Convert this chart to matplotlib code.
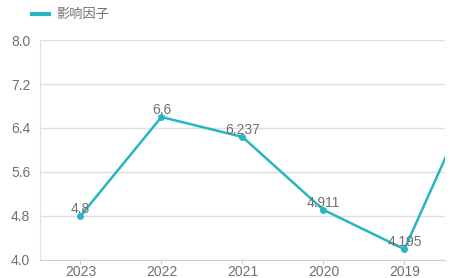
import matplotlib
matplotlib.use('Agg')
import matplotlib.pyplot as plt

plt.rcParams['font.family'] = ['Liberation Sans', 'Noto Sans CJK SC', 'DejaVu Sans']

years = ['2023', '2022', '2021', '2020', '2019', '2018']
values = [4.8, 6.6, 6.237, 4.911, 4.195, 7.48]
labels = ['4.8', '6.6', '6.237', '4.911', '4.195', '']
yticks = [4.0, 4.8, 5.6, 6.4, 7.2, 8.0]

teal = '#27b6c0'
grey = '#707070'

fig = plt.figure(figsize=(4.54, 2.78), dpi=100)
ax = fig.add_axes([0.088, 0.065, 0.892, 0.791])

x = list(range(len(years)))
ax.plot(x, values, color=teal, lw=1.8, marker='o', ms=4, zorder=3)
for xi, v, t in zip(x, values, labels):
    ax.annotate(t, (xi, v), xytext=(0, 0), textcoords='offset points',
                ha='center', va='bottom', fontsize=10, color=grey, zorder=4)

ax.set_xlim(-0.5, 4.5)
ax.set_ylim(4.0, 8.0)
ax.set_xticks(x[:5])
ax.set_xticklabels(years[:5])
ax.set_yticks(yticks)
ax.set_yticklabels(['%.1f' % t for t in yticks])
ax.grid(axis='y', color='#e0e0e0', lw=1)
ax.set_axisbelow(True)
for s in ['top', 'right']:
    ax.spines[s].set_visible(False)
ax.spines['left'].set_color('#e0e0e0')
ax.spines['bottom'].set_color('#d0d0d0')
ax.tick_params(axis='y', length=0, labelsize=10, labelcolor=grey, pad=7)
ax.tick_params(axis='x', length=3, color='#d0d0d0', labelsize=10, labelcolor=grey, pad=1)

leg = fig.legend(handles=[plt.Line2D([], [], color=teal, lw=3)], labels=['影响因子'],
                 loc='upper left', bbox_to_anchor=(0.045, 1.01), frameon=False,
                 handlelength=1.3, handletextpad=0.5, fontsize=9.5)
for t in leg.get_texts():
    t.set_color(grey)

fig.savefig('out.png', dpi=100)
